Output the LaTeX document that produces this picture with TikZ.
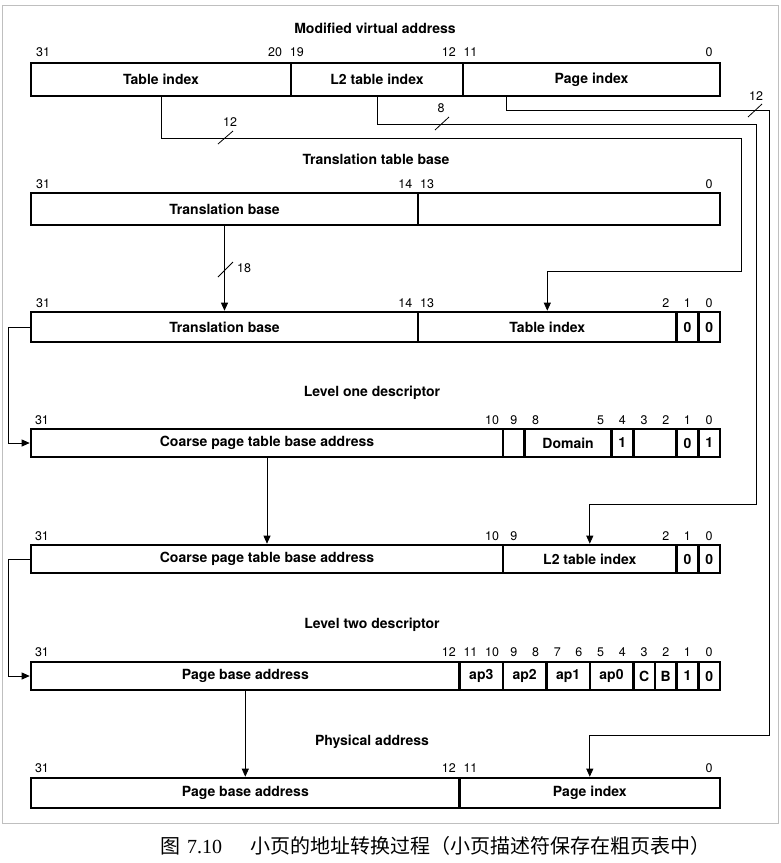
\documentclass[tikz,border=0pt]{standalone}
\usepackage{fontspec}
\setsansfont{TeX Gyre Heros}
\newfontfamily\cjk{Noto Sans CJK SC}
\newfontfamily\capnum{Liberation Serif}
\usetikzlibrary{arrows.meta}

\tikzset{
  field/.style={draw, line width=2.6pt, inner sep=0pt, font=\sffamily\bfseries\fontsize{14}{16}\selectfont},
  bitnum/.style={inner sep=0pt, font=\sffamily\fontsize{12.5}{14}\selectfont},
  title/.style={inner sep=0pt, font=\sffamily\bfseries\fontsize{14}{16}\selectfont},
  conn/.style={line width=0.8pt},
  arr/.style={-{Triangle[length=8pt,width=7pt]}},
}

\begin{document}
\begin{tikzpicture}[x=1pt, y=-1pt]
    \useasboundingbox (0,0) rectangle (780,863);
    \draw[gray!50, line width=0.6pt] (2,5) rectangle (778,823);

    % modified virtual address
    \node[title] (vaT) at (375,28) {Modified virtual address};
    \node[field, minimum width=260pt, minimum height=33pt] (va1) at (161,79.5) {Table index};
    \node[field, minimum width=172pt, minimum height=33pt] (va2) at (377,79.5) {L2 table index};
    \node[field, minimum width=257pt, minimum height=33pt] (va3) at (591.5,79.5) {Page index};
    \node[bitnum] (va-n31) at (43,52) {31};
    \foreach \b in {20,19,12,11,0}
        \node[bitnum] (va-n\b) at ({720-21.7*(\b+0.5)},52) {\b};

    % translation table base
    \node[title] (ttbT) at (376,159) {Translation table base};
    \node[field, minimum width=387pt, minimum height=32pt] (ttb1) at (224.5,209) {Translation base};
    \node[field, minimum width=302pt, minimum height=32pt] (ttb2) at (569,209) {};
    \node[bitnum] (ttb-n31) at (43,184) {31};
    \foreach \b in {14,13,0}
        \node[bitnum] (ttb-n\b) at ({720-21.7*(\b+0.5)},184) {\b};

    % level one descriptor address
    \node[field, minimum width=387pt, minimum height=30pt] (l1a1) at (224.5,327) {Translation base};
    \node[field, minimum width=258.6pt, minimum height=30pt] (l1a2) at (547.3,327) {Table index};
    \node[field, minimum width=21.7pt, minimum height=30pt] (l1a3) at (687.45,327) {0};
    \node[field, minimum width=21.7pt, minimum height=30pt] (l1a4) at (709.15,327) {0};
    \node[bitnum] (l1a-n31) at (43,303) {31};
    \foreach \b in {14,13,2,1,0}
        \node[bitnum] (l1a-n\b) at ({720-21.7*(\b+0.5)},303) {\b};

    % level one descriptor
    \node[title] (l1dT) at (372,393) {Level one descriptor};
    \node[field, minimum width=472pt, minimum height=28pt] (l1d1) at (267,443) {Coarse page table base address};
    \node[field, minimum width=21.7pt, minimum height=28pt] (l1d2) at (513.85,443) {};
    \node[field, minimum width=86.8pt, minimum height=28pt] (l1d3) at (568.1,443) {Domain};
    \node[field, minimum width=21.7pt, minimum height=28pt] (l1d4) at (622.35,443) {1};
    \node[field, minimum width=43.4pt, minimum height=28pt] (l1d5) at (654.9,443) {};
    \node[field, minimum width=21.7pt, minimum height=28pt] (l1d6) at (687.45,443) {0};
    \node[field, minimum width=21.7pt, minimum height=28pt] (l1d7) at (709.15,443) {1};
    \node[bitnum] (l1d-n31) at (42,420) {31};
    \foreach \b in {10,9,8,5,4,3,2,1,0}
        \node[bitnum] (l1d-n\b) at ({720-21.7*(\b+0.5)},420) {\b};

    % level two descriptor address
    \node[field, minimum width=472pt, minimum height=28pt] (l2a1) at (267,559) {Coarse page table base address};
    \node[field, minimum width=173.6pt, minimum height=28pt] (l2a2) at (589.8,559) {L2 table index};
    \node[field, minimum width=21.7pt, minimum height=28pt] (l2a3) at (687.45,559) {0};
    \node[field, minimum width=21.7pt, minimum height=28pt] (l2a4) at (709.15,559) {0};
    \node[bitnum] (l2a-n31) at (42,536) {31};
    \foreach \b in {10,9,2,1,0}
        \node[bitnum] (l2a-n\b) at ({720-21.7*(\b+0.5)},536) {\b};

    % level two descriptor
    \node[title] (l2dT) at (372,625) {Level two descriptor};
    \node[field, minimum width=428.6pt, minimum height=28pt] (l2d1) at (245.3,676) {Page base address};
    \node[field, minimum width=43.4pt, minimum height=28pt] (l2d2) at (481.3,676) {ap3};
    \node[field, minimum width=43.4pt, minimum height=28pt] (l2d3) at (524.7,676) {ap2};
    \node[field, minimum width=43.4pt, minimum height=28pt] (l2d4) at (568.1,676) {ap1};
    \node[field, minimum width=43.4pt, minimum height=28pt] (l2d5) at (611.5,676) {ap0};
    \node[field, minimum width=21.7pt, minimum height=28pt] (l2d6) at (644.05,676) {C};
    \node[field, minimum width=21.7pt, minimum height=28pt] (l2d7) at (665.75,676) {B};
    \node[field, minimum width=21.7pt, minimum height=28pt] (l2d8) at (687.45,676) {1};
    \node[field, minimum width=21.7pt, minimum height=28pt] (l2d9) at (709.15,676) {0};
    \node[bitnum] (l2d-n31) at (42,652) {31};
    \foreach \b in {12,11,10,9,8,7,6,5,4,3,2,1,0}
        \node[bitnum] (l2d-n\b) at ({720-21.7*(\b+0.5)},652) {\b};

    % physical address
    \node[title] (paT) at (372,742) {Physical address};
    \node[field, minimum width=428.6pt, minimum height=30pt] (pa1) at (245.3,793) {Page base address};
    \node[field, minimum width=260.4pt, minimum height=30pt] (pa2) at (589.8,793) {Page index};
    \node[bitnum] (pa-n31) at (42,768) {31};
    \foreach \b in {12,11,0}
        \node[bitnum] (pa-n\b) at ({720-21.7*(\b+0.5)},768) {\b};

    % connectors
    \draw[conn, arr] (va1.south) |- (741,138) -- (741,271) -| (l1a2.north);
    \draw[conn, arr] (va2.south) |- (756,124) -- (756,504) -| (l2a2.north);
    \draw[conn, arr] ([xshift=-85.5pt]va3.south) |- (769,110) -- (769,735) -| (pa2.north);
    \draw[conn, arr] (ttb1.south) -- (l1a1.north);
    \draw[conn, arr] (l1a1.west) -- ++(-21,0) |- (l1d1.west);
    \draw[conn, arr] (l1d1.south) -- (l2a1.north);
    \draw[conn, arr] (l2a1.west) -- ++(-21,0) |- (l2d1.west);
    \draw[conn, arr] (l2d1.south) -- (pa1.north);

    % bus widths
    \draw[conn] (218,144) -- (233,131);
    \node[bitnum] (w1) at (230,122) {12};
    \draw[conn] (435,130) -- (449,117);
    \node[bitnum] (w2) at (441,108) {8};
    \draw[conn] (748,117) -- (762,104);
    \node[bitnum] (w3) at (756,96) {12};
    \draw[conn] (218,277) -- (233,262);
    \node[bitnum] (w4) at (244,268) {18};

    \node[inner sep=0pt, font=\fontsize{20}{22}\selectfont] (cap) at (435.5,846)
        {{\cjk 图} {\capnum 7.10}\hspace{1.4em}{\cjk 小页的地址转换过程（小页描述符保存在粗页表中）}};
\end{tikzpicture}
\end{document}
